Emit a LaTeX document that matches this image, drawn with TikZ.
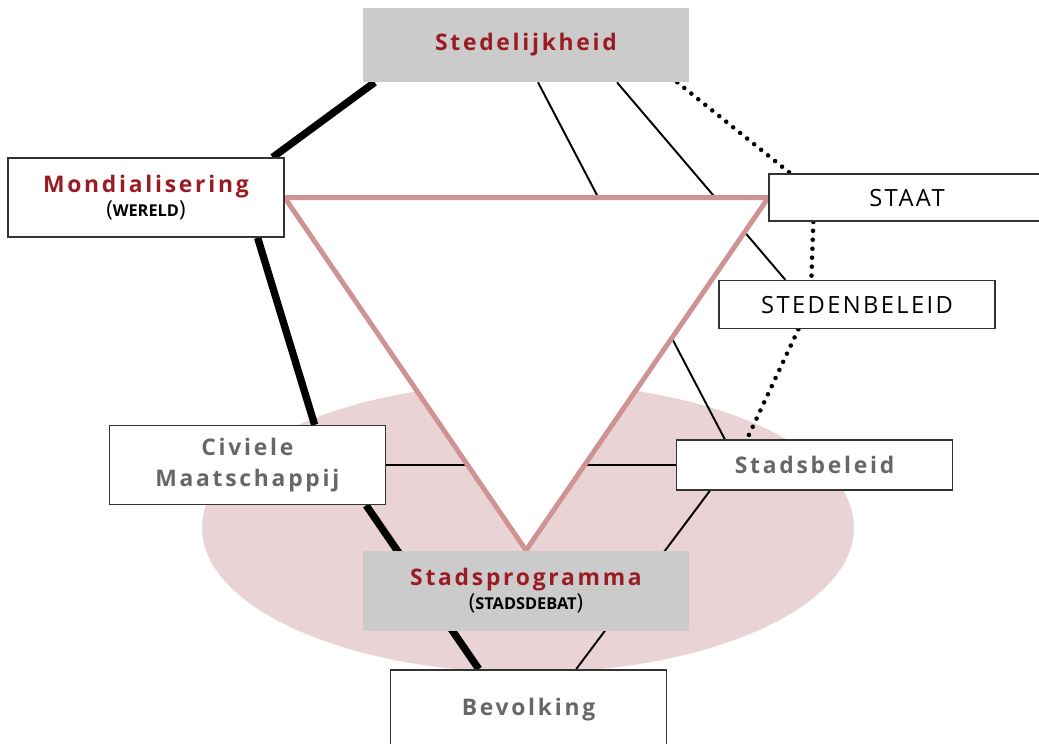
\documentclass[tikz,border=0pt]{standalone}
\usepackage{fontspec}
\setmainfont{Open Sans}
\newfontfamily\spacedfont[LetterSpace=12]{Open Sans}
\newfontfamily\capsfont[LetterSpace=10]{Open Sans}
\usetikzlibrary{positioning,calc,backgrounds}
\definecolor{wrrred}{HTML}{9B1B24}
\definecolor{wrrgrey}{HTML}{CBCBCB}
\definecolor{wrrtext}{HTML}{676767}
\definecolor{ovalpink}{HTML}{EAD3D4}
\definecolor{tripink}{HTML}{D09393}
\newcommand{\subnote}[1]{{\color{black}\normalfont\fontsize{12.5}{14}\selectfont(\bfseries\fontsize{9.3}{11}\selectfont#1\mdseries\fontsize{12.5}{14}\selectfont)}}
\tikzset{
  box/.style={rectangle,draw=black!80,line width=0.85pt,fill=white,
    minimum width=5.52cm,inner sep=0pt,align=center},
  greybox/.style={rectangle,fill=wrrgrey,minimum width=6.52cm,
    inner sep=0pt,align=center},
  redtext/.style={font=\spacedfont\bfseries\fontsize{13}{17}\selectfont,text=wrrred},
  greytext/.style={font=\spacedfont\bfseries\fontsize{13}{17.6}\selectfont,text=wrrtext},
  capstext/.style={font=\capsfont\fontsize{13.5}{16}\selectfont},
  heavy/.style={line width=4.2pt},
  light/.style={line width=1.1pt},
  dots/.style={line width=2.6pt,line cap=round,dash pattern=on 0pt off 5.1pt},
  tri/.style={draw=tripink,line width=2.8pt,fill=white}
}
\begin{document}
\begin{tikzpicture}
  \useasboundingbox (-10.52,0.9) rectangle (10.26,-13.98);
  \node[greybox,minimum height=1.48cm,redtext] (sted) at (0,0) {Stedelijkheid};
  \node[greybox,minimum height=1.6cm,redtext,below=9.36cm of sted] (prog)
    {Stadsprogramma\\[-3pt]\subnote{STADSDEBAT}};
  \node[box,minimum height=1.58cm,redtext,below left=1.5cm and 1.56cm of sted] (mond)
    {Mondialisering\\[-3pt]\subnote{WERELD}};
  \node[box,minimum height=1.58cm,greytext,below=3.74cm of mond,xshift=2.03cm] (civ)
    {Civiele\\Maatschappij};
  \node[box,minimum height=1.58cm,greytext,below=0.76cm of prog,xshift=0.05cm] (bev)
    {Bevolking};
  \node[box,minimum height=0.94cm,capstext,below right=1.82cm and 1.58cm of sted] (staat)
    {STAAT};
  \node[box,minimum height=0.96cm,capstext,below=1.16cm of staat,xshift=-1cm] (stb)
    {STEDENBELEID};
  \node[box,minimum height=1cm,greytext,below=2.2cm of stb,xshift=-0.85cm] (sb)
    {Stadsbeleid};
  \begin{scope}[on background layer]
    \fill[ovalpink] ($(prog.center)+(0.04,1.26)$) ellipse (6.52cm and 2.9cm);
    \draw[heavy] ($(sted.south west)+(0.24,0)$) -- ($(mond.north east)+(-0.24,0)$);
    \draw[heavy] ($(mond.south east)+(-0.54,0)$) -- ($(civ.north west)+(4.12,0)$);
    \draw[heavy] ($(civ.south east)+(-0.4,0)$) -- ($(bev.north west)+(1.78,0)$);
    \draw[light] ($(sted.south)+(0.24,0)$) -- ($(sb.north west)+(0.98,0)$);
    \draw[light] ($(sted.south)+(1.82,0)$) -- ($(stb.north west)+(1.34,0)$);
    \draw[light] (civ.east) -- (civ.east -| sb.west);
    \draw[light] ($(sb.south west)+(0.68,0)$) -- ($(bev.north east)+(-1.82,0)$);
    \draw[dots] ($(sted.south east)+(-0.24,0)$) -- ($(staat.north west)+(0.44,0)$);
    \draw[dots] ($(staat.south west)+(0.9,0)$) -- ($(stb.north west)+(1.86,0)$);
    \draw[dots] ($(stb.south west)+(1.6,0)$) -- ($(sb.north west)+(1.42,0)$);
    % driehoek over de lijnen
    \draw[tri] (mond.east) -- (staat.west) -- (prog.north) -- cycle;
  \end{scope}
\end{tikzpicture}
\end{document}
